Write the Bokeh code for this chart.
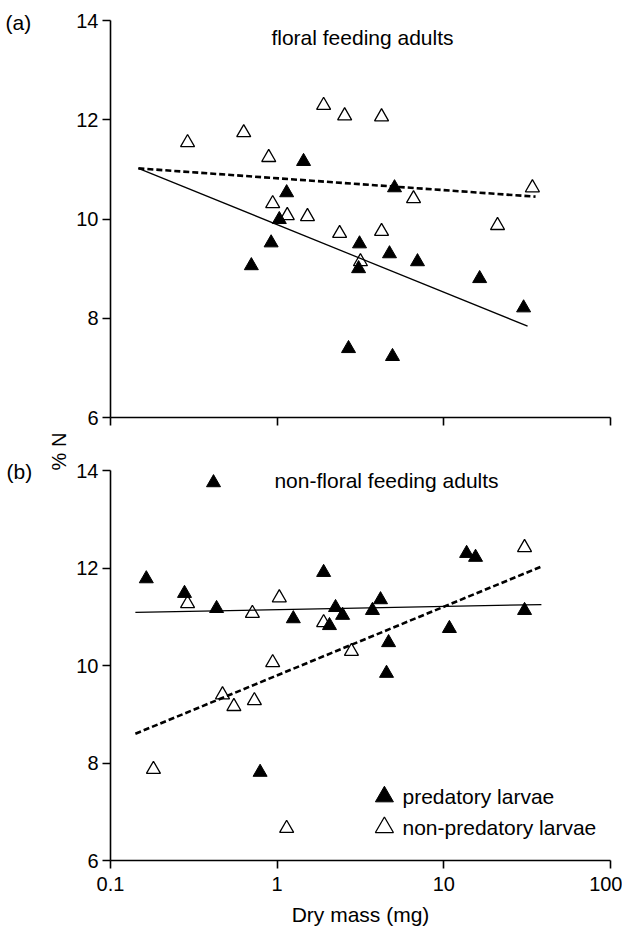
import math
from bokeh.plotting import figure
from bokeh.layouts import column, row
from bokeh.models import FixedTicker, CustomJSTickFormatter, Label, Range1d
from bokeh.embed import file_html
from bokeh.resources import INLINE

FONT = "Liberation Sans"

# ---------------- data: panel (a) floral feeding adults ----------------
a_pred_mass = [1.44, 1.14, 1.03, 0.92, 0.70, 5.06, 3.12, 4.72, 6.95, 3.08, 16.4, 30.1, 2.68, 4.92]
a_pred_n = [11.16, 10.53, 9.99, 9.52, 9.06, 10.63, 9.50, 9.30, 9.14, 9.00, 8.80, 8.21, 7.39, 7.23]
a_nonpred_mass = [0.29, 0.63, 0.89, 0.94, 1.15, 1.52, 1.90, 2.54, 4.23, 6.58, 34.0, 21.0, 2.37, 4.23, 3.16]
a_nonpred_n = [11.54, 11.74, 11.24, 10.31, 10.07, 10.05, 12.29, 12.08, 12.06, 10.41, 10.63, 9.87, 9.71, 9.75, 9.14]
a_pred_fit_mass = [0.147, 31.8]
a_pred_fit_n = [11.02, 7.84]
a_nonpred_fit_mass = [0.147, 35.5]
a_nonpred_fit_n = [11.02, 10.45]

# ---------------- data: panel (b) non-floral feeding adults ----------------
b_pred_mass = [0.415, 0.164, 0.278, 0.433, 1.25, 1.90, 2.24, 2.47, 2.06, 3.73, 4.17, 4.66, 4.53,
               10.8, 13.7, 15.5, 30.5, 0.79]
b_pred_n = [13.75, 11.78, 11.48, 11.17, 10.96, 11.91, 11.19, 11.03, 10.82, 11.13, 11.35, 10.47, 9.84,
            10.76, 12.30, 12.22, 11.13, 7.81]
b_nonpred_mass = [0.29, 0.71, 1.03, 0.94, 1.90, 2.79, 30.5, 0.47, 0.55, 0.73, 0.181, 1.14]
b_nonpred_n = [11.27, 11.07, 11.39, 10.06, 10.88, 10.29, 12.42, 9.40, 9.16, 9.28, 7.87, 6.66]
b_pred_fit_mass = [0.141, 38.5]
b_pred_fit_n = [11.09, 11.25]
b_nonpred_fit_mass = [0.141, 38.5]
b_nonpred_fit_n = [8.60, 12.03]

x_ticks = [0.1, 1, 10, 100]
y_ticks = [6, 8, 10, 12, 14]
legend_labels = ["predatory larvae", "non-predatory larvae"]
panel_letters = ["(a)", "(b)"]
y_title = "% N"


def make_panel(height, top, bottom, show_xlabels):
    p = figure(width=552, height=height, x_axis_type="log",
               x_range=Range1d(0.1, 100), y_range=Range1d(6, 14),
               output_backend="svg", toolbar_location=None,
               min_border_left=40, min_border_right=12,
               min_border_top=top, min_border_bottom=bottom)
    p.outline_line_color = None
    p.grid.visible = False
    p.background_fill_color = "white"
    p.border_fill_color = "white"

    p.xaxis.ticker = FixedTicker(ticks=x_ticks, minor_ticks=[])
    p.yaxis.ticker = FixedTicker(ticks=y_ticks, minor_ticks=[])
    for ax in (p.xaxis[0], p.yaxis[0]):
        ax.axis_line_width = 1.6
        ax.axis_line_color = "black"
        ax.major_tick_line_width = 1.6
        ax.major_tick_line_color = "black"
        ax.major_tick_out = 8
        ax.major_tick_in = 0
        ax.minor_tick_out = 0
        ax.minor_tick_in = 0
        ax.major_label_text_font = FONT
        ax.major_label_text_font_size = "20px"
        ax.major_label_text_color = "black"
        ax.axis_label_text_font = FONT
        ax.axis_label_text_font_style = "normal"
        ax.axis_label_text_font_size = "21px"
        ax.axis_label_text_color = "black"
    p.yaxis.major_label_standoff = 4
    if show_xlabels:
        p.xaxis.formatter = CustomJSTickFormatter(
            code="return Number(tick.toPrecision(3)).toString();")
        p.xaxis.major_label_standoff = 8
        p.xaxis.axis_label = "Dry mass (mg)"
        p.xaxis.axis_label_standoff = 9
    else:
        p.xaxis.formatter = CustomJSTickFormatter(code="return '';")
        p.xaxis.major_label_text_font_size = "0px"
        p.xaxis.major_label_standoff = 0
    return p


def add_series(p, pm, pn, nm, nn, pfm, pfn, nfm, nfn):
    p.line(pfm, pfn, line_color="black", line_width=1.3)
    p.line(nfm, nfn, line_color="black", line_width=2.6, line_dash="6 3")
    p.scatter(pm, pn, marker="triangle", size=14, fill_color="black", line_color="black")
    p.scatter(nm, nn, marker="triangle", size=14, fill_color=None, line_color="black",
              line_width=1.3)


def text(p, x, y, s, size="21px", align="left", baseline="middle", angle=0.0):
    p.add_layout(Label(x=x, y=y, text=s, text_font=FONT, text_font_size=size,
                       text_align=align, text_baseline=baseline, angle=angle,
                       text_color="black"))


# ---------------- panel (a) ----------------
pa = make_panel(430, 20, 13, False)
add_series(pa, a_pred_mass, a_pred_n, a_nonpred_mass, a_nonpred_n,
           a_pred_fit_mass, a_pred_fit_n, a_nonpred_fit_mass, a_nonpred_fit_n)
text(pa, 3.25, 13.66, "floral feeding adults", align="center")

# ---------------- panel (b) ----------------
pb = make_panel(500, 40, 70, True)
add_series(pb, b_pred_mass, b_pred_n, b_nonpred_mass, b_nonpred_n,
           b_pred_fit_mass, b_pred_fit_n, b_nonpred_fit_mass, b_nonpred_fit_n)
text(pb, 4.53, 13.80, "non-floral feeding adults", align="center")

# legend (drawn by hand so marker size matches the reference)
LEG_X = 4.4
LEG_TX = 5.65
LEG_Y = [7.31, 6.68]
pb.scatter([LEG_X], [LEG_Y[0]], marker="triangle", size=18, fill_color="black",
           line_color="black")
pb.scatter([LEG_X], [LEG_Y[1]], marker="triangle", size=18, fill_color=None,
           line_color="black", line_width=1.3)
text(pb, LEG_TX, LEG_Y[0], legend_labels[0])
text(pb, LEG_TX, LEG_Y[1], legend_labels[1])

# ---------------- left strip holding panel letters and the y title ----------------
strip = figure(width=70, height=930, x_range=Range1d(0, 70), y_range=Range1d(930, 0),
               x_axis_location=None, y_axis_location=None,
               output_backend="svg", toolbar_location=None,
               min_border=0)
strip.outline_line_color = None
strip.grid.visible = False
strip.border_fill_color = "white"
text(strip, 5, 22, panel_letters[0])
text(strip, 6, 471, panel_letters[1])
text(strip, 58, 451, y_title, size="20px", align="center", angle=math.pi / 2)

layout = row(strip, column(pa, pb, spacing=0), spacing=0)
open("out.html", "w").write(file_html(layout, INLINE))
